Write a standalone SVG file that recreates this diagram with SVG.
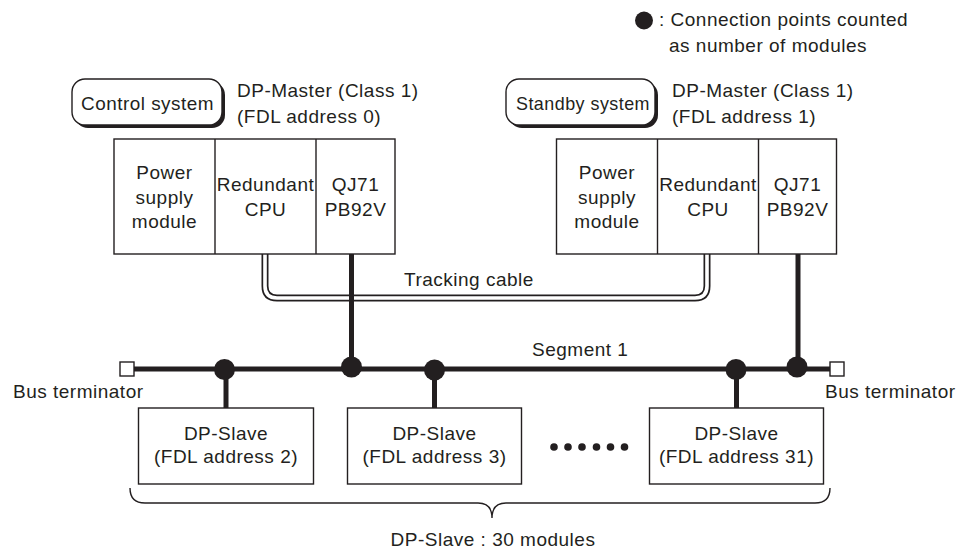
<svg xmlns="http://www.w3.org/2000/svg" width="961" height="553" viewBox="0 0 961 553">
<style>
text{font-family:"Liberation Sans",Arial,sans-serif;font-size:19px;fill:#231f20;letter-spacing:0.5px}
.c{text-anchor:middle}
.box{fill:#fff;stroke:#231f20;stroke-width:1.4}
.bus{stroke:#231f20;stroke-width:5;fill:none}
.dot{fill:#231f20}
</style>
<rect width="961" height="553" fill="#fff"/>
<g id="legend">
<circle class="dot" cx="644" cy="20.5" r="9"/>
<text x="659" y="26">: Connection points counted</text>
<text x="669" y="51.5">as number of modules</text>
</g>
<g id="connectors">
<path d="M265,254 V286 Q265,298 277,298 H695 Q707,298 707,286 V254" fill="none" stroke="#231f20" stroke-width="7"/>
<path d="M265,254 V286 Q265,298 277,298 H695 Q707,298 707,286 V254" fill="none" stroke="#fff" stroke-width="3.6"/>
<line class="bus" x1="134" y1="369" x2="830" y2="369"/>
<line class="bus" x1="351.5" y1="254" x2="351.5" y2="369"/>
<line class="bus" x1="798" y1="254" x2="798" y2="369"/>
<line class="bus" x1="226" y1="369" x2="226" y2="408"/>
<line class="bus" x1="434.5" y1="369" x2="434.5" y2="408"/>
<line class="bus" x1="736.5" y1="369" x2="736.5" y2="408"/>
<circle class="dot" cx="224.5" cy="369.5" r="10.5"/>
<circle class="dot" cx="351.5" cy="367" r="10.5"/>
<circle class="dot" cx="434.5" cy="370" r="10.5"/>
<circle class="dot" cx="736" cy="369.5" r="10.5"/>
<circle class="dot" cx="797" cy="367" r="10.5"/>
</g>
<g id="tracking-label"><text x="404" y="285.5">Tracking cable</text></g>
<g id="segment-label"><text x="532" y="356">Segment 1</text></g>
<g id="control-system">
<rect x="75" y="82" width="150" height="46" rx="13" fill="#231f20"/>
<rect class="box" x="72" y="79" width="150" height="46" rx="13"/>
<text x="81" y="110" textLength="133" lengthAdjust="spacingAndGlyphs">Control system</text>
</g>
<g id="standby-system">
<rect x="509" y="82" width="149" height="46" rx="13" fill="#231f20"/>
<rect class="box" x="506" y="79" width="149" height="46" rx="13"/>
<text x="516" y="110" textLength="134" lengthAdjust="spacingAndGlyphs">Standby system</text>
</g>
<g id="master-control">
<text x="237" y="96.5">DP-Master (Class 1)</text>
<text x="237" y="122.5">(FDL address 0)</text>
<rect class="box" x="114" y="139" width="281" height="115"/>
<line class="box" x1="215" y1="139" x2="215" y2="254"/>
<line class="box" x1="316" y1="139" x2="316" y2="254"/>
<text class="c" x="164.5" y="179">Power</text>
<text class="c" x="164.5" y="203.5">supply</text>
<text class="c" x="164.5" y="228">module</text>
<text class="c" x="265.5" y="191">Redundant</text>
<text class="c" x="265.5" y="216">CPU</text>
<text class="c" x="355.5" y="191">QJ71</text>
<text class="c" x="355.5" y="216">PB92V</text>
</g>
<g id="master-standby">
<text x="672" y="96.5">DP-Master (Class 1)</text>
<text x="672" y="122.5">(FDL address 1)</text>
<rect class="box" x="556.5" y="139" width="280" height="115"/>
<line class="box" x1="657.5" y1="139" x2="657.5" y2="254"/>
<line class="box" x1="758.5" y1="139" x2="758.5" y2="254"/>
<text class="c" x="607" y="179">Power</text>
<text class="c" x="607" y="203.5">supply</text>
<text class="c" x="607" y="228">module</text>
<text class="c" x="708" y="191">Redundant</text>
<text class="c" x="708" y="216">CPU</text>
<text class="c" x="797.5" y="191">QJ71</text>
<text class="c" x="797.5" y="216">PB92V</text>
</g>
<g id="terminator-left">
<rect class="box" x="120" y="362" width="14" height="14"/>
<text x="13" y="397.5">Bus terminator</text>
</g>
<g id="terminator-right">
<rect class="box" x="830" y="362" width="14" height="14"/>
<text x="825" y="397.5">Bus terminator</text>
</g>
<g id="slave-2">
<rect class="box" x="138.5" y="408" width="175" height="76"/>
<text class="c" x="226" y="440">DP-Slave</text>
<text class="c" x="226" y="463">(FDL address 2)</text>
</g>
<g id="slave-3">
<rect class="box" x="347.5" y="408" width="174" height="76"/>
<text class="c" x="434.5" y="440">DP-Slave</text>
<text class="c" x="434.5" y="463">(FDL address 3)</text>
</g>
<g id="ellipsis">
<circle class="dot" cx="554" cy="447" r="3.8"/>
<circle class="dot" cx="568" cy="447" r="3.8"/>
<circle class="dot" cx="582" cy="447" r="3.8"/>
<circle class="dot" cx="596.5" cy="447" r="3.8"/>
<circle class="dot" cx="610.5" cy="447" r="3.8"/>
<circle class="dot" cx="624.5" cy="447" r="3.8"/>
</g>
<g id="slave-31">
<rect class="box" x="649.5" y="408" width="174" height="76"/>
<text class="c" x="736.5" y="440">DP-Slave</text>
<text class="c" x="736.5" y="463">(FDL address 31)</text>
</g>
<g id="slave-count">
<path d="M130,488 Q130,503 145,503 H478 Q492,503 492,518 Q492,503 506,503 H815 Q830,503 830,488" fill="none" stroke="#231f20" stroke-width="1.4"/>
<text class="c" x="493" y="546">DP-Slave : 30 modules</text>
</g>
</svg>
